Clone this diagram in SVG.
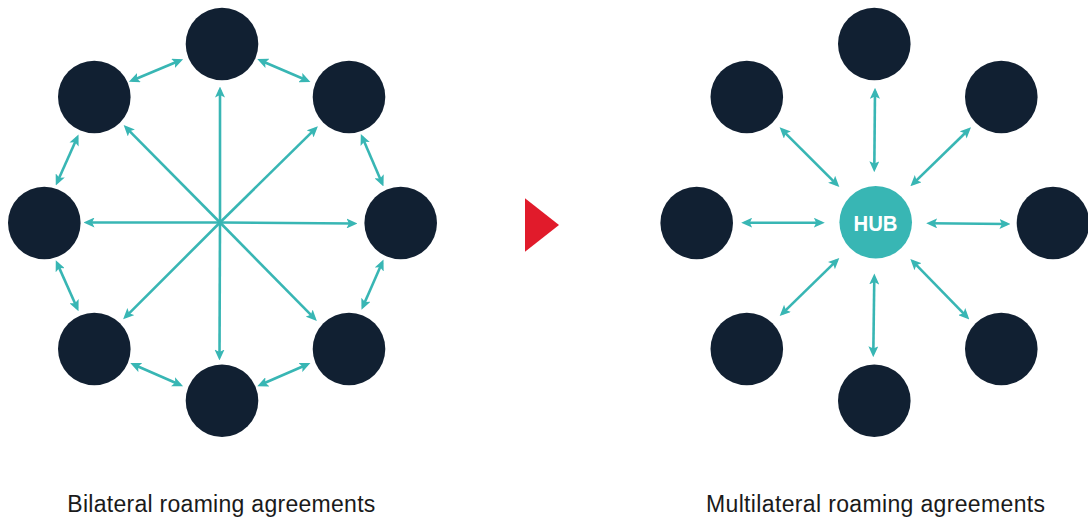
<svg xmlns="http://www.w3.org/2000/svg" width="1088" height="520" viewBox="0 0 1088 520">
  <defs>
    <marker id="arrow" viewBox="0 0 11 10" markerWidth="11" markerHeight="10" refX="7.5" refY="5" markerUnits="userSpaceOnUse" orient="auto-start-reverse">
      <path d="M0,0 L11,5 L0,10 L2.4,5 Z" fill="#38b6b4"/>
    </marker>
    <style>
      .node { fill: #112032; }
      .hub { fill: #38b6b4; }
      .link { stroke: #38b6b4; stroke-width: 2.6; fill: none; }
      .both { marker-start: url(#arrow); marker-end: url(#arrow); }
      .one { marker-end: url(#arrow); }
      .label { font-family: "Liberation Sans", Arial, sans-serif; font-size: 23px; fill: #1a1a1a; }
      .hubtext { font-family: "Liberation Sans", Arial, sans-serif; font-size: 22px; font-weight: bold; fill: #ffffff; }
    </style>
  </defs>

  <rect width="1088" height="520" fill="#ffffff"/>

  <!-- Bilateral mesh: connectors -->
  <g id="bilateral-connectors">
    <line class="link one" x1="220" y1="222.5" x2="220" y2="90"/>
    <line class="link one" x1="220" y1="222.5" x2="219.5" y2="357"/>
    <line class="link one" x1="220" y1="222.5" x2="87" y2="222.5"/>
    <line class="link one" x1="220" y1="222.5" x2="354" y2="223.5"/>
    <line class="link one" x1="220" y1="222.5" x2="126.1" y2="127.6"/>
    <line class="link one" x1="220" y1="222.5" x2="315.4" y2="128.6"/>
    <line class="link one" x1="220" y1="222.5" x2="125.6" y2="316.9"/>
    <line class="link one" x1="220" y1="222.5" x2="314.4" y2="318.4"/>

    <line class="link both" x1="179.9" y1="60.5" x2="132.1" y2="80.5"/>
    <line class="link both" x1="260.5" y1="60.5" x2="307.2" y2="80.5"/>
    <line class="link both" x1="77.1" y1="137.7" x2="57.2" y2="182.3"/>
    <line class="link both" x1="362.2" y1="137.1" x2="382.1" y2="183.2"/>
    <line class="link both" x1="57.2" y1="263.4" x2="77.1" y2="308"/>
    <line class="link both" x1="382.1" y1="262.7" x2="362.9" y2="306.6"/>
    <line class="link both" x1="133.5" y1="364.5" x2="179.9" y2="384.8"/>
    <line class="link both" x1="307.2" y1="364.5" x2="260.5" y2="384.8"/>
  </g>

  <!-- Bilateral mesh: operators -->
  <g id="bi-n"><circle class="node" cx="222" cy="44" r="36.3"/></g>
  <g id="bi-ne"><circle class="node" cx="349" cy="97" r="36.3"/></g>
  <g id="bi-e"><circle class="node" cx="400.7" cy="223" r="36.3"/></g>
  <g id="bi-se"><circle class="node" cx="349" cy="349" r="36.3"/></g>
  <g id="bi-s"><circle class="node" cx="222" cy="400.7" r="36.3"/></g>
  <g id="bi-sw"><circle class="node" cx="94.3" cy="349" r="36.3"/></g>
  <g id="bi-w"><circle class="node" cx="44.3" cy="223" r="36.3"/></g>
  <g id="bi-nw"><circle class="node" cx="94.3" cy="97" r="36.3"/></g>

  <!-- Transition marker -->
  <g id="transition">
    <polygon points="525,198.3 559,225 525,251.7" fill="#e11b2b"/>
  </g>

  <!-- Hub model: connectors -->
  <g id="hub-connectors">
    <line class="link both" x1="875" y1="91.3" x2="874.3" y2="168.7"/>
    <line class="link both" x1="874.3" y1="277" x2="873.3" y2="353.7"/>
    <line class="link both" x1="744.7" y1="222.7" x2="821.3" y2="222.7"/>
    <line class="link both" x1="929.7" y1="223.3" x2="1007" y2="224"/>
    <line class="link both" x1="782.1" y1="129.8" x2="836.9" y2="184.6"/>
    <line class="link both" x1="968.5" y1="129.8" x2="912.9" y2="183.9"/>
    <line class="link both" x1="836.8" y1="260.4" x2="782.2" y2="313.6"/>
    <line class="link both" x1="912.8" y1="261.4" x2="966.9" y2="316.9"/>
  </g>

  <!-- Hub model: operators -->
  <g id="mu-n"><circle class="node" cx="874.3" cy="44" r="36.3"/></g>
  <g id="mu-ne"><circle class="node" cx="1001.3" cy="97" r="36.3"/></g>
  <g id="mu-e"><circle class="node" cx="1053" cy="223" r="36.3"/></g>
  <g id="mu-se"><circle class="node" cx="1001.3" cy="349" r="36.3"/></g>
  <g id="mu-s"><circle class="node" cx="874.3" cy="400.7" r="36.3"/></g>
  <g id="mu-sw"><circle class="node" cx="746.8" cy="349" r="36.3"/></g>
  <g id="mu-w"><circle class="node" cx="696.7" cy="223" r="36.3"/></g>
  <g id="mu-nw"><circle class="node" cx="746.8" cy="97" r="36.3"/></g>

  <g id="hub">
    <circle class="hub" cx="875.7" cy="222.3" r="36.3"/>
    <text class="hubtext" x="875.5" y="231.3" text-anchor="middle" textLength="44" lengthAdjust="spacingAndGlyphs">HUB</text>
  </g>

  <!-- Captions -->
  <g id="captions">
    <text class="label" x="67.3" y="511.5" textLength="308" lengthAdjust="spacing">Bilateral roaming agreements</text>
    <text class="label" x="706" y="511.5" textLength="339" lengthAdjust="spacing">Multilateral roaming agreements</text>
  </g>
</svg>
